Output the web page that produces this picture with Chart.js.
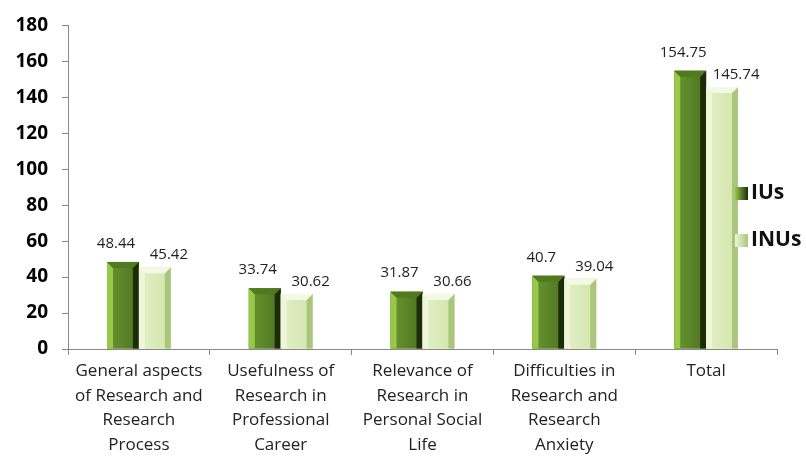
<!DOCTYPE html>
<html>
<head>
<meta charset="utf-8">
<script src="https://cdn.jsdelivr.net/npm/chart.js@4.4.0/dist/chart.umd.min.js"></script>
<style>
  html, body { margin: 0; padding: 0; background: #fff; }
  #wrap { width: 806px; height: 463px; }
</style>
</head>
<body>
<div id="wrap"><canvas id="c" width="806" height="463"></canvas></div>
<script>
const categories = [
  ["General aspects", "of Research and", "Research", "Process"],
  ["Usefulness of", "Research in", "Professional", "Career"],
  ["Relevance of", "Research in", "Personal Social", "Life"],
  ["Difficulties in", "Research and", "Research", "Anxiety"],
  ["Total"]
];
const seriesNames = ["IUs", "INUs"];
const iusValues = [48.44, 33.74, 31.87, 40.7, 154.75];
const inusValues = [45.42, 30.62, 30.66, 39.04, 145.74];
const yTicks = [0, 20, 40, 60, 80, 100, 120, 140, 160, 180];

// bevel colours per series: [left, faceA, faceB, right, top]
const bevels = [
  ["#98c848", "#6a9630", "#4c7420", "#1c2c08", "#4f7a1e"],
  ["#eef6d8", "#e3efc8", "#d3e5aa", "#aac67c", "#f4f9e6"]
];

const bevelPlugin = {
  id: "bevel",
  afterDatasetsDraw(chart) {
    const ctx = chart.ctx;
    chart.data.datasets.forEach((ds, di) => {
      const c = bevels[di];
      chart.getDatasetMeta(di).data.forEach(bar => {
        const l = bar.x - bar.width / 2, r = bar.x + bar.width / 2;
        const t = bar.y, b = bar.base;
        const bv = Math.min(6, bar.width / 5, (b - t) / 3);
        ctx.save();
        const g = ctx.createLinearGradient(l, 0, r, 0);
        g.addColorStop(0, c[1]);
        g.addColorStop(1, c[2]);
        ctx.fillStyle = g;
        ctx.fillRect(l, t, r - l, b - t);
        // left
        ctx.fillStyle = c[0];
        ctx.beginPath();
        ctx.moveTo(l, t); ctx.lineTo(l + bv, t + bv); ctx.lineTo(l + bv, b); ctx.lineTo(l, b);
        ctx.closePath(); ctx.fill();
        // right
        ctx.fillStyle = c[3];
        ctx.beginPath();
        ctx.moveTo(r, t); ctx.lineTo(r - bv, t + bv); ctx.lineTo(r - bv, b); ctx.lineTo(r, b);
        ctx.closePath(); ctx.fill();
        // top
        ctx.fillStyle = c[4];
        ctx.beginPath();
        ctx.moveTo(l, t); ctx.lineTo(r, t); ctx.lineTo(r - bv, t + bv); ctx.lineTo(l + bv, t + bv);
        ctx.closePath(); ctx.fill();
        ctx.restore();
      });
    });
  }
};

const labelPlugin = {
  id: "valueLabels",
  afterDatasetsDraw(chart) {
    const ctx = chart.ctx;
    ctx.save();
    ctx.font = "15px 'Open Sans', sans-serif";
    ctx.fillStyle = "#222";
    ctx.textAlign = "center";
    ctx.textBaseline = "bottom";
    chart.data.datasets.forEach((ds, di) => {
      chart.getDatasetMeta(di).data.forEach((bar, i) => {
        const dx = di === 0 ? -7 : 14;
        const dy = di === 0 ? 11 : 5;
        ctx.fillText(String(ds.data[i]), bar.x + dx, bar.y - dy);
      });
    });
    // legend
    ctx.font = "bold 21px 'Open Sans', sans-serif";
    ctx.textAlign = "left";
    ctx.textBaseline = "middle";
    const ly = [193, 240];
    seriesNames.forEach((name, di) => {
      const c = bevels[di];
      const g = ctx.createLinearGradient(735, 0, 748, 0);
      g.addColorStop(0, c[0]);
      g.addColorStop(1, c[3]);
      ctx.fillStyle = g;
      ctx.fillRect(735, ly[di] - 6, 13, 13);
      ctx.fillStyle = "#111";
      ctx.fillText(name, 751, ly[di]);
    });
    ctx.restore();
  }
};

new Chart(document.getElementById("c"), {
  type: "bar",
  data: {
    labels: categories,
    datasets: [
      { label: seriesNames[0], data: iusValues, backgroundColor: "#5b8a23",
        categoryPercentage: 0.45, barPercentage: 1 },
      { label: seriesNames[1], data: inusValues, backgroundColor: "#d6e8aa",
        categoryPercentage: 0.45, barPercentage: 1 }
    ]
  },
  options: {
    responsive: false,
    animation: false,
    layout: { padding: { top: 22, right: 29, left: 0, bottom: 0 } },
    plugins: { legend: { display: false }, tooltip: { enabled: false } },
    scales: {
      x: {
        grid: { display: true, drawOnChartArea: false, tickLength: 6, color: "#888" },
        border: { color: "#888" },
        ticks: {
          color: "#222", padding: 4, maxRotation: 0, autoSkip: false,
          font: { family: "'Open Sans', sans-serif", size: 17, lineHeight: 1.45 }
        },
        afterFit(s) { s.height = 114; }
      },
      y: {
        min: 0, max: 180,
        afterBuildTicks(s) { s.ticks = yTicks.map(v => ({ value: v })); },
        grid: { display: true, drawOnChartArea: false, tickLength: 6, color: "#888" },
        border: { color: "#888" },
        ticks: {
          color: "#000", padding: 14,
          font: { family: "'Open Sans', sans-serif", size: 19, weight: "bold" }
        },
        afterFit(s) { s.width = 68; }
      }
    }
  },
  plugins: [bevelPlugin, labelPlugin]
});
</script>
</body>
</html>
